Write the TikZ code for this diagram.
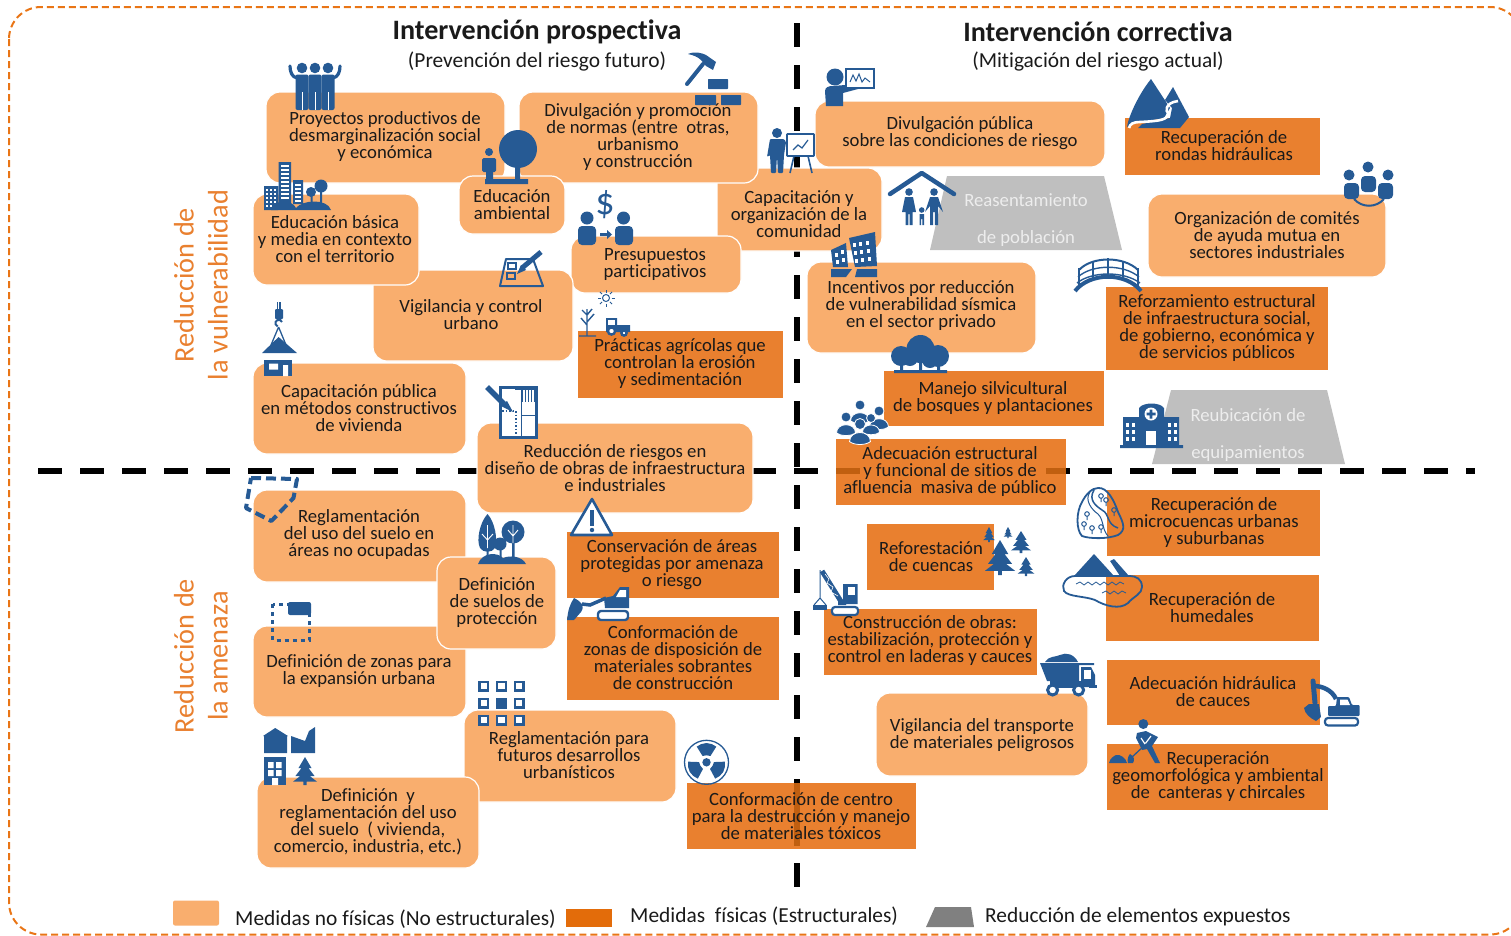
\documentclass[tikz,border=0pt]{standalone}
\usepackage{fontspec}
\usetikzlibrary{calc}
\setmainfont[Ligatures=NoCommon]{Carlito}
\definecolor{lightbox}{HTML}{F9AE6E}
\definecolor{darkbox}{HTML}{E9802F}
\definecolor{legenddark}{HTML}{E36C0A}
\definecolor{greybox}{HTML}{BFBFBF}
\definecolor{iconblue}{HTML}{265A94}
\definecolor{ink}{HTML}{1A1A1A}
\definecolor{stripe}{HTML}{C05F10}
\definecolor{edgeorange}{HTML}{E97516}
\definecolor{labelorange}{HTML}{E9802F}
\tikzset{
  softbox/.style={draw=white,line width=1.2pt,fill=lightbox,rounded corners=14pt,inner sep=0pt,outer sep=0pt},
  hardbox/.style={draw=none,fill=darkbox,inner sep=0pt,outer sep=0pt},
  lbl/.style={align=center,text=ink,inner sep=0pt,yshift=-1pt,font=\fontsize{18.7}{17}\selectfont},
  graylbl/.style={align=center,text=white!93!black,inner sep=0pt,yshift=-2pt,font=\fontsize{18.7}{37}\selectfont},
  il/.style={draw=iconblue,fill=none,line width=#1},
  il/.default=2pt,
  blackdash/.style={line width=5.5pt,black,dash pattern=on 24pt off 18pt},
  titletext/.style={inner sep=0pt,text=ink,font=\fontsize{28.1}{32}\selectfont\bfseries},
  subtext/.style={inner sep=0pt,text=ink,font=\fontsize{21.4}{24}\selectfont},
  axistext/.style={rotate=90,align=center,inner sep=0pt,text=labelorange,font=\fontsize{28.3}{34}\selectfont},
  legendtext/.style={anchor=west,inner sep=0pt,text=ink,font=\fontsize{21.4}{24}\selectfont},
}
% style, name, x1,y1,x2,y2, text centre x, text centre y, text
\newcommand\bx[9]{%
  \node[#1,minimum width={(#5-#3)*1pt},minimum height={(#6-#4)*1pt}] (#2) at ({(#3+#5)/2},{(#4+#6)/2}) {};
  \node[lbl] (#2t) at (#7,#8) {#9};}
\newcommand\pine[4]{% x, top, bottom, half width
  \fill[iconblue] (#1,#2) -- ({#1+0.55*#4},{#2+0.4*(#3-#2)}) -- ({#1+0.3*#4},{#2+0.4*(#3-#2)})
   -- ({#1+0.8*#4},{#2+0.68*(#3-#2)}) -- ({#1+0.4*#4},{#2+0.68*(#3-#2)}) -- ({#1+#4},{#2+0.88*(#3-#2)})
   -- ({#1+0.13*#4},{#2+0.88*(#3-#2)}) -- ({#1+0.13*#4},#3) -- ({#1-0.13*#4},#3) -- ({#1-0.13*#4},{#2+0.88*(#3-#2)})
   -- ({#1-#4},{#2+0.88*(#3-#2)}) -- ({#1-0.4*#4},{#2+0.68*(#3-#2)}) -- ({#1-0.8*#4},{#2+0.68*(#3-#2)})
   -- ({#1-0.3*#4},{#2+0.4*(#3-#2)}) -- ({#1-0.55*#4},{#2+0.4*(#3-#2)}) -- cycle;}
\newcommand\bust[3]{% x, y of head, head radius
  \fill[iconblue,draw=white,line width=0.8pt] ({#1-1.9*#3},{#2+3.2*#3}) .. controls ({#1-1.9*#3},{#2+1*#3}) and ({#1+1.9*#3},{#2+1*#3}) .. ({#1+1.9*#3},{#2+3.2*#3}) .. controls ({#1+1*#3},{#2+3.9*#3}) and ({#1-1*#3},{#2+3.9*#3}) .. cycle;
  \fill[iconblue,draw=white,line width=0.8pt] (#1,#2) circle[radius=#3*1pt];}
\begin{document}
\begin{tikzpicture}[x=1pt,y=-1pt]
\useasboundingbox (0,0) rectangle (1511,935);
\begin{scope}
\clip (0,0) rectangle (1511,935);
\draw[edgeorange,line width=2pt,dash pattern=on 7pt off 4pt,rounded corners=32pt] (9,7) rectangle (1522,934.5);
\end{scope}
% dashed axes
\coordinate (hA) at (38,471); \coordinate (hB) at (1475,471);
\coordinate (vA) at (797,23); \coordinate (vB) at (797,887);
\draw[blackdash] (hA) -- (hB);
\draw[blackdash,line width=6pt] (vA) -- (vB);
% titles
\node[titletext] (t1) at (537,32) {Intervención prospectiva};
\node[subtext] (t2) at (537,61.5) {(Prevención del riesgo futuro)};
\node[titletext] (t3) at (1098,32) {Intervención correctiva};
\node[subtext] (t4) at (1098,61.5) {(Mitigación del riesgo actual)};
\node[axistext] (a1) at (201,285) {Reducción de\\la vulnerabilidad};
\node[axistext] (a2) at (201,656) {Reducción de\\la amenaza};
% boxes
\bx{softbox}{capcom}{717}{168}{882}{251}{799}{213}{Capacitación y\\organización de la\\comunidad}
\bx{softbox}{proy}{266}{92}{505}{183}{385}{136}{Proyectos productivos de\\desmarginalización social\\y económica}
\bx{softbox}{divn}{519}{92}{758}{183}{638}{136}{Divulgación y promoción\\de normas (entre\ \ otras,\\urbanismo\\y construcción}
\bx{softbox}{edam}{459}{176}{565}{234}{512}{204}{Educación\\ambiental}
\bx{softbox}{pres}{571}{236}{741}{293}{655}{264}{Presupuestos\\participativos}
\bx{softbox}{vigu}{373}{270}{573}{361}{471}{314}{Vigilancia y control\\urbano}
\bx{softbox}{edba}{253}{194}{419}{285}{335}{238}{Educación básica\\y media en contexto\\con el territorio}
\bx{hardbox}{prac}{578}{331}{783}{398}{680}{363}{Prácticas agrícolas que\\controlan la erosión\\y sedimentación}
\bx{softbox}{capu}{253}{363}{466}{454}{359}{407}{Capacitación pública\\en métodos constructivos\\de vivienda}
\bx{softbox}{redu}{477}{423}{753}{513}{615}{467}{Reducción de riesgos en\\diseño de obras de infraestructura\\e industriales}
\bx{softbox}{dipu}{815}{101}{1105}{167}{960}{132}{Divulgación pública\\sobre las condiciones de riesgo}
\bx{hardbox}{rond}{1125}{118}{1320}{175}{1224}{145}{Recuperación de\\rondas hidráulicas}
\bx{softbox}{orga}{1148}{194}{1386}{277}{1267}{234}{Organización de comités\\de ayuda mutua en\\sectores industriales}
\bx{softbox}{ince}{807}{262}{1036}{353}{921}{305}{Incentivos por reducción\\de vulnerabilidad sísmica\\en el sector privado}
\bx{hardbox}{refo}{1106}{287}{1328}{370}{1217}{327}{Reforzamiento estructural\\de infraestructura social,\\de gobierno, económica y\\de servicios públicos}
\bx{hardbox}{mane}{884}{371}{1104}{426}{993}{397}{Manejo silvicultural\\de bosques y plantaciones}
\node[hardbox,minimum width=230pt,minimum height=66pt] (adec) at (951,472) {};
\bx{softbox}{regl}{253}{490}{466}{582}{359}{534}{Reglamentación\\del uso del suelo en\\áreas no ocupadas}
\bx{softbox}{dezo}{253}{626}{466}{717}{359}{670}{Definición de zonas para\\la expansión urbana}
\bx{softbox}{desu}{437}{557}{556}{649}{497}{602}{Definición\\de suelos de\\protección}
\bx{hardbox}{cons}{567}{532}{779}{598}{672}{564}{Conservación de áreas\\protegidas por amenaza\\o riesgo}
\bx{hardbox}{cozo}{567}{617}{779}{700}{673}{657}{Conformación de\\zonas de disposición de\\materiales sobrantes\\de construcción}
\bx{softbox}{refu}{464}{710}{676}{802}{569}{754}{Reglamentación para\\futuros desarrollos\\urbanísticos}
\bx{softbox}{dere}{257}{777}{479}{868}{368}{821}{Definición\ \ y\\reglamentación del uso\\del suelo\ \ ( vivienda,\\comercio, industria, etc.)}
\node[hardbox,minimum width=229pt,minimum height=66pt] (coce) at (801.5,816) {};
\bx{hardbox}{refs}{867}{524}{994}{590}{931}{556}{Reforestación\\de cuencas}
\bx{hardbox}{micr}{1107}{490}{1320}{556}{1214}{522}{Recuperación de\\microcuencas urbanas\\y suburbanas}
\bx{hardbox}{hume}{1106}{575}{1319}{641}{1212}{607}{Recuperación de\\humedales}
\bx{hardbox}{cobr}{824}{609}{1037}{675}{930}{640}{Construcción de obras:\\estabilización, protección y\\control en laderas y cauces}
\bx{hardbox}{adhi}{1107}{660}{1320}{725}{1213}{691}{Adecuación hidráulica\\de cauces}
\bx{softbox}{vitr}{876}{693}{1088}{776}{982}{734}{Vigilancia del transporte\\de materiales peligrosos}
\bx{hardbox}{geom}{1107}{744}{1328}{810}{1218}{776}{Recuperación\\geomorfológica y ambiental\\de\ \ canteras y chircales}
% strokes seen through the two translucent boxes
\coordinate (s1a) at (836,471); \coordinate (s1b) at (860,471);
\coordinate (s2a) at (1046,471); \coordinate (s2b) at (1066,471);
\coordinate (s3a) at (797,783); \coordinate (s3b) at (797,846);
\fill[stripe] ([yshift=2.7pt]s1a) rectangle ([yshift=-2.7pt]s1b);
\fill[stripe] ([yshift=2.7pt]s2a) rectangle ([yshift=-2.7pt]s2b);
\fill[stripe] ([xshift=-3pt]s3a) rectangle ([xshift=3pt]s3b);
\node[lbl] (cocet) at (801,815) {Conformación de centro\\para la destrucción y manejo\\de materiales tóxicos};
\node[lbl] (adect) at (950,471) {Adecuación estructural\\y funcional de sitios de\\afluencia\ \ masiva de público};
% grey trapezoids
\fill[greybox] (947,176) -- (1104,176) -- (1122,250) -- (930,250) -- cycle;
\node[graylbl] (reas) at (1026,218.5) {Reasentamiento\\de población};
\fill[greybox] (1171,390) -- (1327,390) -- (1345,464) -- (1152,464) -- cycle;
\node[graylbl] (reub) at (1248,433.5) {Reubicación de\\equipamientos};
% ---------- icons ----------
% three people
\foreach \px in {302,315,328}{
  \fill[iconblue] (\px,68) circle[radius=5.3pt];
  \fill[iconblue,rounded corners=2pt] (\px-6.5,74.5) rectangle (\px+6.5,110);
  \draw[white,line width=.6pt] (\px,92) -- (\px,110);}
\draw[il=3.2pt,line cap=round] (297,78) .. controls (292,77) and (290,72) .. (290,66);
\draw[il=3.2pt,line cap=round] (333,78) .. controls (338,77) and (340,72) .. (340,66);
% hammer and bricks
\draw[il=4pt,line cap=round] (687,84) -- (703,64);
\fill[iconblue] (688,54) .. controls (695,51) and (702,53) .. (706,55) -- (716,62) -- (713,70) -- (706,66) -- (701,60) .. controls (698,57) and (693,55) .. cycle;
\fill[iconblue,rounded corners=.7pt] (708,79) rectangle (728,89) (695,95) rectangle (716,105) (721,95) rectangle (741,105);
% tree and person
\fill[iconblue] (518,149) circle[radius=19pt];
\fill[iconblue] (515,165) rectangle (520,180) (485,179) rectangle (528,184) (486,172) rectangle (493,180);
\fill[iconblue] (489,152) circle[radius=4pt];
\fill[iconblue,rounded corners=1.5pt] (482,158) rectangle (496,172);
% city
\fill[iconblue] (278.5,162) rectangle (291,204) (264,186) rectangle (278,210) (293,180) rectangle (303,204);
\foreach \wy in {165,169,...,200}{\fill[white] (281,\wy) rectangle (289,\wy+1.8);}
\foreach \wy in {184,188,...,200}{\fill[white] (295,\wy) rectangle (301,\wy+1.8);}
\foreach \wy in {189,193,...,205}{\foreach \wx in {266,270,274}{\fill[white] (\wx,\wy) rectangle (\wx+2.4,\wy+2.4);}}
\fill[iconblue] (321,186) circle[radius=6.5pt] (311,192) circle[radius=5pt];
\fill[iconblue] (320,186) rectangle (322,205) (310.5,192) rectangle (312.5,205);
\fill[iconblue] (271,210) .. controls (274,199) and (292,199) .. (296,208) .. controls (302,200) and (327,198) .. (331,210) -- cycle;
% money persons
\node[inner sep=0pt,text=iconblue,font=\fontsize{38}{38}\selectfont] (dollar) at (605,205) {\$};
\fill[iconblue] (587,218) circle[radius=6.5pt] (623.5,218) circle[radius=6.5pt];
\fill[iconblue,rounded corners=4pt] (578,226) rectangle (596,245) (615,226) rectangle (633,245);
\fill[iconblue] (600,233) -- (607,233) -- (607,230) -- (612,234.5) -- (607,239) -- (607,236) -- (600,236) -- cycle;
% presenter at easel
\fill[iconblue] (777,133) circle[radius=5pt];
\fill[iconblue,rounded corners=1pt] (770,139) -- (784,139) -- (786,142) -- (784,155) -- (783,173) -- (778,173) -- (777,156) -- (776,173) -- (771,173) -- (770,155) -- (767,157) -- cycle;
\draw[il=2pt] (783,143) -- (795,144);
\draw[il=1.6pt,fill=white,rounded corners=.5pt] (787,134) rectangle (814,156);
\draw[il=1.6pt] (794,156) -- (790,173) (808,156) -- (812,173);
\draw[il=1.2pt] (793,150) -- (798,145) -- (802,148) -- (808,140);
% clipboard and pencil
\draw[il=2pt,line join=round] (506,259) -- (533,259) -- (543,286) -- (500,286) -- cycle;
\draw[il=1.4pt] (508,263) rectangle (516,269) (507,273) rectangle (515,279);
\draw[il=5pt] (522,268) -- (541,252);
\fill[iconblue] (517,274) -- (521,265) -- (526,270) -- cycle;
% sun, bare tree, tractor
\draw[il=1pt] (606,298) circle[radius=3.5pt];
\foreach \ra in {0,45,...,315}{\draw[iconblue,line width=.8pt] (606,298) ++(\ra:5.5) -- ++(\ra:3);}
\draw[il=1.4pt] (587,336) -- (587,309) (579,336) -- (596,336) (587,325) -- (581,318) (587,322) -- (594,314) (587,315) -- (582,310) (587,315) -- (592,309);
\fill[iconblue] (606,318) rectangle (617,332) (612,325) rectangle (630,332);
\fill[white] (608,320) rectangle (615,325);
\draw[il=2.4pt,fill=white] (611.5,331) circle[radius=3.6pt] (624,333) circle[radius=2.6pt];
% crane hook and house
\draw[il=1.4pt] (277.5,302) -- (277.5,310) (280,302) -- (280,310);
\fill[iconblue,rounded corners=1pt] (275,309) rectangle (283,319);
\draw[il=2pt] (282,322) arc[start angle=20,end angle=250,radius=3.4pt];
\draw[il=1.3pt] (278.6,327) -- (271,345) (278.6,327) -- (286,345);
\fill[iconblue] (278.6,337) -- (297,353) -- (262,353) -- cycle;
\fill[iconblue] (264,360) rectangle (292,376);
\fill[white] (269,363.5) rectangle (278,369.5) (283,365) rectangle (288,376);
% plan with pencil
\draw[il=3pt,fill=white] (500,387) rectangle (536,437);
\draw[il=.8pt] (521,389) -- (521,436) (521,415) -- (535,415) (515,389) -- (535,389);
\draw[iconblue,line width=1.5pt,dotted] (502,411) -- (516,411) -- (516,434);
\foreach \lx in {522,525,...,534}{\draw[iconblue,line width=.6pt] (\lx,390) -- (\lx,402);}
\draw[il=5.5pt] (487,387) -- (504,404);
\fill[iconblue] (501,406) -- (507,401) -- (513,412) -- cycle;
% presenter with chart
\fill[iconblue] (835,77) circle[radius=8.5pt];
\fill[iconblue] (825,91) .. controls (825,87) and (829,86) .. (833,86) -- (857,84) -- (858,89) -- (843,93) -- (843,106) -- (826,106) -- cycle;
\draw[il=1.8pt,fill=white] (846,69) rectangle (874,88);
\draw[il=1pt] (850,82) -- (853,75) -- (856,81) -- (859,74) -- (862,82) -- (865,78) -- (870,82);
% mountains and river
\fill[iconblue] (1151,79) -- (1170,108) -- (1164,118) -- (1131,124) -- (1127,127) .. controls (1128,118) and (1138,95) .. cycle;
\fill[iconblue] (1173,87) -- (1189,117) -- (1180,128) -- (1138,128) -- (1142,124) -- (1170,118) -- (1172,108) -- (1165,100) -- cycle;
\draw[white,line width=2.6pt] (1178,101) .. controls (1164,103) and (1166,112) .. (1168,113) .. controls (1168,120) and (1160,121) .. (1140,122) .. controls (1133,122) and (1130,124) .. (1129,128);
% family under roof
\draw[il=4.5pt,line cap=round,line join=round] (890,194) -- (921.7,173) -- (954,194);
\fill[iconblue] (909,192) circle[radius=3.8pt] (934,192) circle[radius=3.8pt] (921.7,210) circle[radius=2.8pt];
\fill[iconblue] (905,197) -- (913,197) -- (916,212) -- (912.5,212) -- (912.5,225) -- (909.7,225) -- (909.7,214) -- (908.3,214) -- (908.3,225) -- (905.5,225) -- (905.5,212) -- (902,212) -- cycle;
\fill[iconblue] (930,197) -- (938,197) -- (943,212) -- (938,206) -- (938,225) -- (934.8,225) -- (934.8,212) -- (933.2,212) -- (933.2,225) -- (930,225) -- (930,206) -- (925,212) -- cycle;
\fill[iconblue] (919.5,214) -- (924,214) -- (924,225) -- (922.3,225) -- (922.3,219) -- (921.2,219) -- (921.2,225) -- (919.5,225) -- cycle;
% meeting
\fill[iconblue] (1349,175) circle[radius=5.5pt] (1368,167) circle[radius=5.5pt] (1388,175) circle[radius=5.5pt];
\fill[iconblue,rounded corners=4pt] (1361,176) rectangle (1376,192) (1344,183) rectangle (1359,199) (1378,183) rectangle (1393,199);
\draw[il=2pt] (1354,199) .. controls (1362,208) and (1376,208) .. (1384,199);
% collapsed building
\fill[iconblue] (849,238) -- (875,232) -- (877,266) -- (855,267) -- cycle;
\fill[iconblue] (831,250) -- (846,243) -- (848,267) -- (833,267) -- cycle;
\fill[iconblue] (831,269) -- (852,269) -- (846,277) -- (831,277) -- cycle (857,269) -- (877,269) -- (877,277) -- (855,277) -- cycle;
\foreach \wx/\wy in {853/243,859/242,866/241,854/251,860/250,867/249,855/259,861/258,868/257,835/253,841/250,836/260,842/258}{\fill[white] (\wx,\wy) rectangle (\wx+3.2,\wy+4);}
% bridge
\draw[il=4pt] (1075,291) .. controls (1090,272) and (1126,272) .. (1141,291);
\draw[il=2pt] (1079,270) .. controls (1092,256) and (1124,256) .. (1138,270);
\draw[il=1.4pt] (1078,277) .. controls (1092,264) and (1124,264) .. (1139,277);
\draw[il=1.4pt] (1077,283) .. controls (1092,271) and (1124,271) .. (1140,283);
\foreach \px/\pt/\pb in {1079/268/288,1093/261/279,1108/258/276,1123/261/279,1138/268/288}{\draw[il=2.4pt] (\px,\pt) -- (\px,\pb);}
% clump of trees
\fill[iconblue] (901,356) circle[radius=10pt] (920.5,349) circle[radius=14pt] (938,356) circle[radius=11pt] (910,358) circle[radius=8pt] (930,360) circle[radius=8pt];
\fill[iconblue] (900,360) rectangle (903,371) (919,360) rectangle (922,371) (937,360) rectangle (940,371) (894,370) rectangle (947,373);
% crowd
\bust{860}{405}{5}
\bust{846}{417}{5}
\bust{879}{411}{5}
\bust{871}{418}{4.5}
\bust{860}{424}{5.5}
% hospital
\fill[iconblue] (1139,408) .. controls (1143,402) and (1160,402) .. (1164,408) -- (1164,445) -- (1139,445) -- cycle;
\fill[iconblue] (1123,417) rectangle (1139,445) (1164,417) rectangle (1179,445) (1120,445) rectangle (1183,448);
\fill[white] (1151,414) circle[radius=6.5pt];
\fill[iconblue] (1149.7,409.5) rectangle (1152.3,418.5) (1146.5,412.7) rectangle (1155.5,415.3);
\fill[white] (1146,431) rectangle (1156,445);
\foreach \wx in {1126,1132,1168,1174}{\foreach \wy in {423,430,437}{\fill[white] (\wx,\wy) rectangle (\wx+3.2,\wy+3.6);}}
% dashed plot
\draw[il=4pt,dash pattern=on 10pt off 5pt,line join=round] (251,478) -- (297,479) -- (293.5,498) -- (271.4,521) -- (246,508) -- cycle;
% trees on a hill
\fill[iconblue] (487.5,514) .. controls (495,522) and (498,540) .. (495,548) .. controls (492,553) and (483,553) .. (480,548) .. controls (476,540) and (480,522) .. cycle;
\fill[iconblue] (513,532) circle[radius=11.5pt] (500,544) circle[radius=6.5pt];
\fill[iconblue] (486.5,545) rectangle (488.5,560) (512,540) rectangle (514.5,560) (499.5,548) rectangle (501.5,560);
\draw[white,line width=.9pt] (487.5,525) -- (487.5,548) (487.5,540) -- (482,534) (487.5,540) -- (493,534) (513,525) -- (513,543) (513,536) -- (508,530) (513,536) -- (518,530);
\fill[iconblue] (478,564) .. controls (482,552) and (498,552) .. (503,558) .. controls (510,555) and (522,556) .. (526,564) -- cycle;
% warning sign
\draw[il=2.6pt,fill=white,line join=round] (592,499) -- (612,535) -- (571,535) -- cycle;
\fill[iconblue] (590,510) rectangle (594,526);
\fill[iconblue] (592,530) circle[radius=2.2pt];
% small excavator
\draw[il=2.4pt,fill=white,rounded corners=3pt] (598,611) rectangle (628,620);
\fill[iconblue] (604,598) -- (613,596) -- (620,587) -- (629,587) -- (629,608) -- (605,608) -- cycle;
\fill[white] (620,590) -- (626,590) -- (626,597) -- (616,597) -- cycle;
\draw[il=3.5pt] (606,598) -- (590,605) -- (582,604);
\fill[iconblue] (574,598) .. controls (582,602) and (585,606) .. (581,612) -- (574,620) -- (567,620) .. controls (568,610) and (570,604) .. cycle;
% dashed square with corner
\draw[il=3pt,dash pattern=on 4pt off 4pt] (272.5,604) rectangle (309.5,640);
\fill[iconblue,rounded corners=2pt] (288,602) -- (311,602) -- (311,615) -- (288,615) -- cycle;
% 3x3 grid
\foreach \gx in {483.6,501.4,519.3}{\foreach \gy in {686.3,703.3,720}{
  \draw[il=2.4pt,fill=white] (\gx-4.3,\gy-4.3) rectangle (\gx+4.3,\gy+4.3);}}
\fill[iconblue] (496,698) rectangle (507,709);
% land uses
\fill[iconblue] (275.2,728) -- (288,736) -- (287,736) -- (287,753) -- (264,753) -- (264,736) -- (263,736) -- cycle;
\fill[iconblue] (291,736) -- (305,741) -- (309,731) -- (315,727) -- (315,753) -- (291,753) -- cycle;
\fill[iconblue] (264,757) rectangle (286.4,785);
\fill[white] (268,762) rectangle (273.5,768) (276,762) rectangle (281.5,768) (268,770) rectangle (273.5,776) (276,770) rectangle (281.5,776) (272,778) rectangle (278,785);
\pine{305}{757}{785}{12}
% radiation
\draw[il=1.3pt] (706.5,762.3) circle[radius=22pt];
\fill[iconblue] (706.5,762.3) circle[radius=4.2pt];
\foreach \sa in {30,150,270}{
  \fill[iconblue] ($(706.5,762.3)+(\sa-32:7.5)$) -- ($(706.5,762.3)+(\sa-32:18.5)$) -- ($(706.5,762.3)+(\sa-16:19)$) -- ($(706.5,762.3)+(\sa:19.3)$) -- ($(706.5,762.3)+(\sa+16:19)$) -- ($(706.5,762.3)+(\sa+32:18.5)$) -- ($(706.5,762.3)+(\sa+32:7.5)$) -- ($(706.5,762.3)+(\sa:7)$) -- cycle;}
% watershed map
\draw[il=1.8pt] (1098,488) .. controls (1107,487) and (1114,500) .. (1118,512) .. controls (1124,524) and (1126,530) .. (1118,535) .. controls (1108,539) and (1090,539) .. (1082,536) .. controls (1076,530) and (1076,512) .. (1082,502) .. controls (1086,494) and (1092,488) .. cycle;
\draw[il=1.5pt] (1094,490) .. controls (1088,500) and (1096,506) .. (1102,510) .. controls (1110,514) and (1106,524) .. (1118,528);
\draw[il=1pt] (1090,492) .. controls (1084,500) and (1092,510) .. (1098,514) .. controls (1104,520) and (1102,530) .. (1108,536);
\foreach \cx/\cy in {1101/496,1106/500,1114/510,1087/514,1084/524,1092/528,1101/527}{
  \draw[il=1pt] (\cx,\cy) circle[radius=2.3pt] (\cx,\cy+2.3) -- (\cx,\cy+6);}
% lake and mountain
\fill[iconblue] (1094,554) -- (1114,576) -- (1074,576) -- cycle;
\fill[iconblue] (1110,561) -- (1114,559) -- (1129,576) -- (1120,576) -- cycle;
\draw[il=1.8pt] (1075,576) .. controls (1066,576) and (1061,585) .. (1064,591) .. controls (1068,597) and (1085,596) .. (1095,600) .. controls (1105,606) and (1120,610) .. (1128,603) .. controls (1134,596) and (1142,594) .. (1142,587) .. controls (1142,579) and (1136,576) .. (1130,576) -- cycle;
\draw[il=.8pt] (1076,584) -- (1080,582) -- (1084,585) -- (1088,582) -- (1092,585) -- (1096,582) -- (1100,585) -- (1104,582) -- (1108,585) -- (1112,582) -- (1116,585) -- (1120,582) -- (1124,584);
\draw[il=.8pt] (1102,593) -- (1106,591) -- (1110,594) -- (1114,591) -- (1118,594) -- (1122,591) -- (1126,593);
% crane
\draw[il=2.2pt,fill=white,rounded corners=3pt] (832,607) rectangle (858,615);
\fill[iconblue] (843,584) rectangle (857.5,604) (838,600) rectangle (846,605);
\fill[white] (848,587) rectangle (855,595);
\draw[il=5pt] (842,603) -- (822,571);
\draw[white,line width=.6pt] (825,574) -- (829,579) -- (827,583) -- (833,587) -- (831,592) -- (838,596) ;
\draw[il=1pt] (820,570) -- (820,598) (820,598) -- (814,605) (820,598) -- (826,605);
\fill[iconblue] (813,605) rectangle (827,610);
% dump truck
\fill[iconblue] (1045,662) .. controls (1048,656) and (1056,657) .. (1060,655) .. controls (1066,652) and (1074,654) .. (1078,662) -- cycle;
\fill[iconblue] (1040,663) -- (1094,663) -- (1094,665) -- (1079,665) -- (1079,681) -- (1047,681) -- cycle;
\fill[iconblue] (1050,681) rectangle (1082,688);
\fill[iconblue] (1081,667) -- (1091,667) -- (1095,675) -- (1095,687) -- (1081,687) -- cycle;
\fill[white] (1084,670) rectangle (1091,679);
\fill[iconblue] (1089,685) rectangle (1097,688);
\draw[il=3pt,fill=white] (1052.6,690) circle[radius=5pt] (1078.6,690) circle[radius=5pt];
% excavator
\draw[il=2.2pt,fill=white,rounded corners=3pt] (1325,718) rectangle (1358,725.5);
\fill[iconblue,rounded corners=1pt] (1328,706) -- (1336,706) -- (1337,697) -- (1349,697) -- (1352,705) -- (1359.5,705) -- (1359.5,716) -- (1328,716) -- cycle;
\fill[white] (1340,699.5) -- (1347.5,699.5) -- (1350,705) -- (1340,705) -- cycle;
\draw[il=4.5pt] (1336,699) .. controls (1332,690) and (1322,686) .. (1314,686);
\draw[il=5pt,line cap=round] (1313,681) -- (1315,703);
\fill[iconblue] (1309,704) -- (1319,704) -- (1321,717) -- (1316,721) .. controls (1310,718) and (1305,714) .. (1304,708) -- cycle;
% worker with shovel
\fill[iconblue] (1143.3,724) circle[radius=5pt];
\fill[iconblue] (1137,733) -- (1146,731) -- (1158,737) -- (1152,746) -- (1160,763) -- (1155,763) -- (1147,749) -- (1142,750) -- (1136,738) -- cycle;
\draw[white,line width=1.2pt] (1141,738) -- (1145,744) -- (1151,736);
\draw[il=1.3pt] (1146,744) -- (1131,758);
\fill[iconblue] (1130,754) .. controls (1134,756) and (1135,760) .. (1133,763) -- (1128,763) .. controls (1127,760) and (1128,756) .. cycle;
\fill[iconblue] (1109,763) .. controls (1110,758) and (1114,756) .. (1116,755) .. controls (1120,754) and (1126,758) .. (1127,763) -- cycle;
% pines
\pine{989}{527}{542}{6}
\pine{1008}{527}{538}{4.5}
\pine{1000}{540}{575}{15}
\pine{1021}{531}{553}{10}
\pine{1026}{557}{576}{8.5}
% legend
\node[fill=lightbox,rounded corners=2pt,minimum width=46pt,minimum height=25pt,inner sep=0pt] (lg1) at (196,913) {};
\node[fill=legenddark,minimum width=46pt,minimum height=18pt,inner sep=0pt] (lg2) at (589,918) {};
\fill[black!50] (935,907) -- (971,907) -- (974,927) -- (926,927) -- cycle;
\node[legendtext] (lt1) at (235,919) {Medidas no físicas (No estructurales)};
\node[legendtext] (lt2) at (630,916) {Medidas\ \ físicas (Estructurales)};
\node[legendtext] (lt3) at (985,916.5) {Reducción de elementos expuestos};
\end{tikzpicture}
\end{document}
